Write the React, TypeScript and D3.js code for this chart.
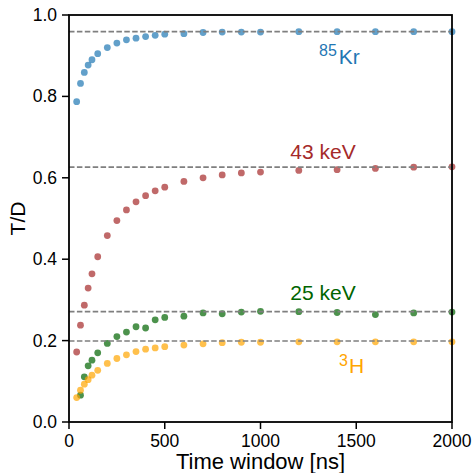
import React from "react";
import * as d3 from "d3";

const timeWindows = [40, 60, 80, 100, 120, 150, 200, 250, 300, 350, 400, 450, 500, 600, 700, 800, 900, 1000, 1200, 1400, 1600, 1800, 2000];
const kr85 = [0.787, 0.832, 0.859, 0.877, 0.890, 0.905, 0.920, 0.931, 0.939, 0.943, 0.947, 0.950, 0.953, 0.954, 0.957, 0.958, 0.958, 0.958, 0.959, 0.959, 0.959, 0.959, 0.959];
const kev43 = [0.172, 0.238, 0.287, 0.329, 0.364, 0.406, 0.458, 0.495, 0.521, 0.541, 0.556, 0.568, 0.577, 0.591, 0.600, 0.607, 0.612, 0.614, 0.618, 0.620, 0.623, 0.626, 0.627];
const kev25Times = [60, 80, 100, 120, 150, 200, 250, 300, 350, 400, 450, 500, 600, 700, 800, 900, 1000, 1200, 1400, 1600, 1800, 2000];
const kev25 = [0.066, 0.111, 0.138, 0.152, 0.170, 0.193, 0.210, 0.221, 0.234, 0.231, 0.251, 0.257, 0.260, 0.268, 0.266, 0.270, 0.272, 0.271, 0.269, 0.264, 0.268, 0.270];
const h3 = [0.060, 0.078, 0.093, 0.104, 0.115, 0.127, 0.144, 0.156, 0.165, 0.173, 0.179, 0.182, 0.185, 0.189, 0.192, 0.195, 0.196, 0.196, 0.197, 0.197, 0.197, 0.197, 0.197];
const plateaus = [0.959, 0.626, 0.271, 0.199];
const xTicks = [0, 500, 1000, 1500, 2000];
const yTicks = [0, 0.2, 0.4, 0.6, 0.8, 1.0];

const W = 474, H = 473;
const M = { left: 69, right: 452, top: 15, bottom: 422 };
const FONT = "'Liberation Sans', Arial, sans-serif";

export default function App() {
  const x = d3.scaleLinear().domain([0, 2000]).range([M.left, M.right]);
  const y = d3.scaleLinear().domain([0, 1]).range([M.bottom, M.top]);

  const series = [
    { xs: timeWindows, ys: kr85, fill: "#1f77b4" },
    { xs: timeWindows, ys: kev43, fill: "#a52a2a" },
    { xs: kev25Times, ys: kev25, fill: "#006400" },
    { xs: timeWindows, ys: h3, fill: "#ffa500" },
  ];

  return (
    <svg width={W} height={H} style={{ position: "absolute", left: 0, top: 0, background: "#fff" }} fontFamily={FONT}>
      {series.map((s, si) => (
        <g key={si}>
          {s.xs.map((t, i) => (
            <circle key={i} cx={x(t)} cy={y(s.ys[i])} r={3.4} fill={s.fill} fillOpacity={0.7} />
          ))}
        </g>
      ))}
      {plateaus.map((p, i) => (
        <line key={i} x1={x(0)} x2={x(2000)} y1={y(p)} y2={y(p)} stroke="#7f7f7f" strokeWidth={1.7} strokeDasharray="5.5,2.4" />
      ))}
      <rect x={M.left} y={M.top} width={M.right - M.left} height={M.bottom - M.top} fill="none" stroke="#000" strokeWidth={1.8} />
      {xTicks.map((t) => (
        <g key={t}>
          <line x1={x(t)} x2={x(t)} y1={M.bottom} y2={M.bottom + 7} stroke="#000" strokeWidth={1.5} />
          <text x={x(t)} y={446.5} fontSize={17.5} textAnchor="middle">{t}</text>
        </g>
      ))}
      {yTicks.map((t) => (
        <g key={t}>
          <line x1={M.left - 7} x2={M.left} y1={y(t)} y2={y(t)} stroke="#000" strokeWidth={1.5} />
          <text x={57} y={y(t) + 6} fontSize={17.5} textAnchor="end">{t.toFixed(1)}</text>
        </g>
      ))}
      <text x={(M.left + M.right) / 2} y={469} fontSize={22} textAnchor="middle">Time window [ns]</text>
      <text transform={`translate(25,${(M.top + M.bottom) / 2}) rotate(-90)`} fontSize={21} textAnchor="middle">T/D</text>
      <text x={319} y={63.5} fontSize={21} fill="#1f77b4"><tspan fontSize={16} dy={-7.5}>85</tspan><tspan dy={7.5} dx={2}>Kr</tspan></text>
      <text x={323} y={158.5} fontSize={21} fill="#a52a2a" textAnchor="middle">43 keV</text>
      <text x={323} y={299.5} fontSize={21} fill="#006400" textAnchor="middle">25 keV</text>
      <text x={339} y={373} fontSize={21} fill="#ffa500"><tspan fontSize={16} dy={-7.5}>3</tspan><tspan dy={7.5} dx={1}>H</tspan></text>
    </svg>
  );
}
